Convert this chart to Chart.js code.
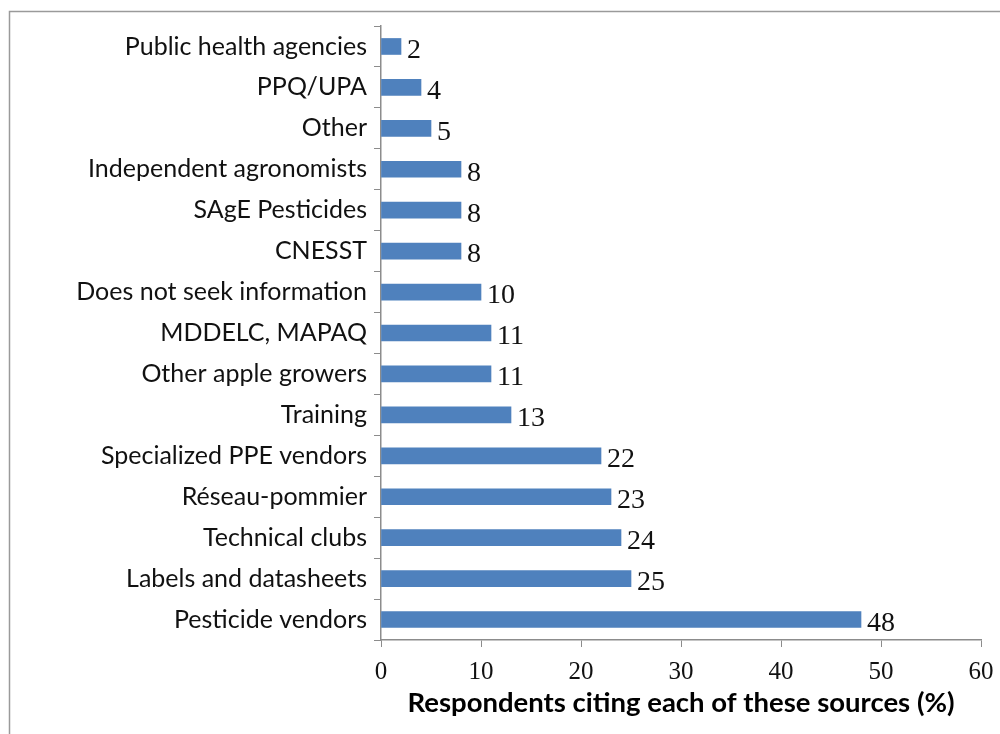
<!DOCTYPE html>
<html>
<head>
<meta charset="utf-8">
<script src="https://cdn.jsdelivr.net/npm/chart.js@4"></script>
<style>
  html, body { margin: 0; padding: 0; background: #fff; }
  #wrap { width: 1000px; height: 734px; position: relative; }
</style>
</head>
<body>
<div id="wrap"><canvas id="myChart" width="1000" height="734"></canvas></div>
<script>
// categories, top to bottom
const sources = [
  'Public health agencies', 'PPQ/UPA', 'Other', 'Independent agronomists',
  'SAgE Pesticides', 'CNESST', 'Does not seek information', 'MDDELC, MAPAQ',
  'Other apple growers', 'Training', 'Specialized PPE vendors', 'Réseau-pommier',
  'Technical clubs', 'Labels and datasheets', 'Pesticide vendors'
];
const percents = [2, 4, 5, 8, 8, 8, 10, 11, 11, 13, 22, 23, 24, 25, 48];
const xTicks = [0, 10, 20, 30, 40, 50, 60];
const xTitle = 'Respondents citing each of these sources (%)';

const barColor = '#4f81bd';
const axisColor = '#8c8c8c';
const sansFont = 'Lato';
const serifFont = 'Liberation Serif';

// value label at end of each bar
const valueLabels = {
  id: 'valueLabels',
  afterDatasetsDraw(chart) {
    const ctx = chart.ctx;
    const meta = chart.getDatasetMeta(0);
    ctx.save();
    ctx.font = '28px "' + serifFont + '"';
    ctx.fillStyle = '#111';
    ctx.textAlign = 'left';
    ctx.textBaseline = 'middle';
    meta.data.forEach((bar, i) => {
      ctx.fillText(String(percents[i]), bar.x + 6, bar.y + 4);
    });
    ctx.restore();
  }
};

// thin frame on top and left like the cropped original
const frame = {
  id: 'frame',
  beforeDraw(chart) {
    const ctx = chart.ctx;
    ctx.save();
    ctx.strokeStyle = '#9a9a9a';
    ctx.lineWidth = 1.5;
    ctx.beginPath();
    ctx.moveTo(9.5, 734);
    ctx.lineTo(9.5, 11.5);
    ctx.lineTo(1000, 11.5);
    ctx.stroke();
    ctx.restore();
  }
};

new Chart('myChart', {
  type: 'bar',
  data: {
    labels: sources,
    datasets: [{
      data: percents,
      backgroundColor: barColor,
      borderWidth: 0,
      barThickness: 16
    }]
  },
  options: {
    indexAxis: 'y',
    responsive: false,
    animation: false,
    layout: { padding: { left: 0, right: 19, top: 26, bottom: 0 } },
    plugins: {
      legend: { display: false },
      tooltip: { enabled: false }
    },
    scales: {
      x: {
        min: 0,
        max: 60,
        afterBuildTicks: (scale) => { scale.ticks = xTicks.map(v => ({ value: v })); },
        grid: { drawOnChartArea: false, drawTicks: true, tickLength: 7, color: axisColor },
        border: { display: true, color: axisColor, width: 1.5 },
        ticks: {
          color: '#111',
          padding: 10,
          maxRotation: 0,
          font: { family: serifFont, size: 25 }
        },
        title: {
          display: true,
          text: xTitle,
          color: '#000',
          padding: { top: 0, bottom: 14 },
          font: { family: sansFont, size: 27.5, weight: 'bold' }
        },
        afterFit: (scale) => { scale.height = 94; scale.paddingRight = 0; scale.paddingLeft = 0; }
      },
      y: {
        grid: { drawOnChartArea: false, drawTicks: true, tickLength: 7, color: axisColor, offset: true },
        border: { display: true, color: axisColor, width: 1.5 },
        ticks: {
          color: '#111',
          padding: 7,
          autoSkip: false,
          font: { family: sansFont, size: 25 }
        },
        afterFit: (scale) => { scale.width = 381; scale.paddingTop = 0; scale.paddingBottom = 0; }
      }
    }
  },
  plugins: [frame, valueLabels]
});
</script>
</body>
</html>
